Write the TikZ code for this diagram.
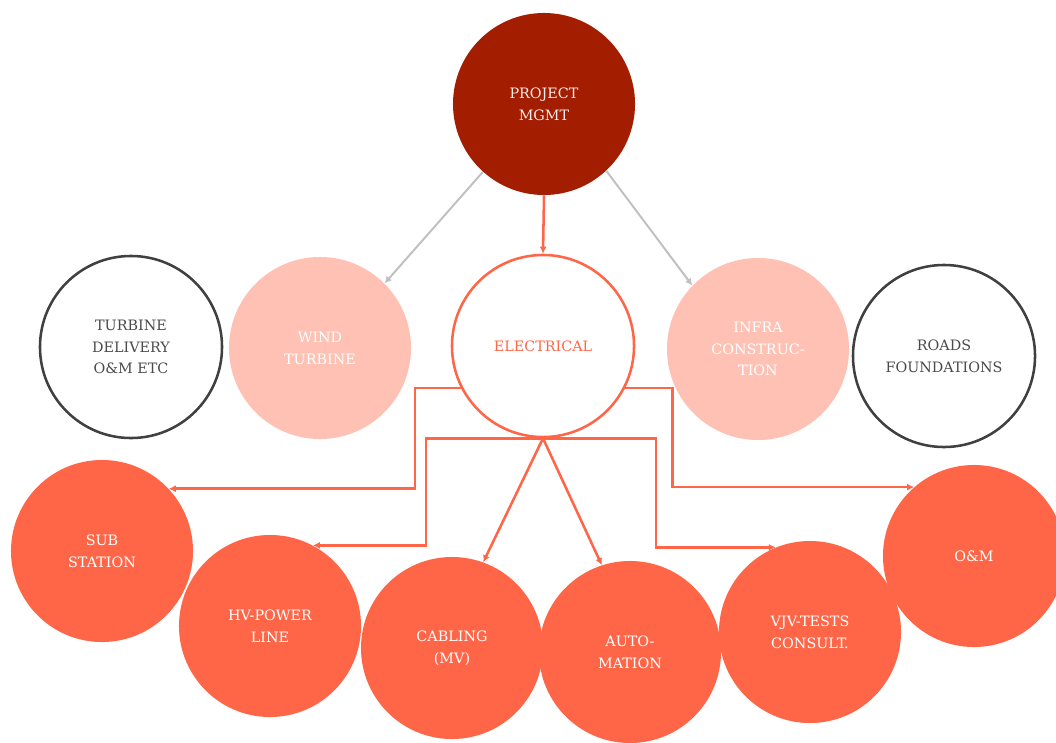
\documentclass[tikz,border=0pt]{standalone}
\usepackage{fontspec}
\setmainfont{DejaVu Serif}
\usetikzlibrary{arrows.meta}
\definecolor{pmred}{HTML}{A31D00}
\definecolor{tomatoo}{HTML}{FF6647}
\definecolor{pinkish}{HTML}{FFC1B4}
\definecolor{ringgray}{HTML}{404040}
\definecolor{txtgray}{HTML}{4A4A4A}
\definecolor{arrgray}{HTML}{C0C0C0}
\begin{document}
\begin{tikzpicture}[x=0.025cm, y=-0.025cm,
    bubble/.style = {circle, minimum size=4.55cm, inner sep=0pt, align=center,
        font=\fontsize{10.2}{15.5}\selectfont},
    boss/.style = {bubble, fill=pmred, text=white!92!pmred},
    side/.style = {bubble, fill=pinkish, text=white},
    outer/.style = {bubble, draw=ringgray, line width=1.8pt, text=txtgray},
    hub/.style = {bubble, draw=tomatoo, line width=1.8pt, fill=white, text=tomatoo},
    leaf/.style = {bubble, fill=tomatoo, text=white},
    glink/.style = {draw=arrgray, line width=1.4pt, -{Latex[length=5pt,width=5pt]}},
    elink/.style = {draw=tomatoo, line width=1.8pt, -{Latex[length=5pt,width=5pt]}}]
        \useasboundingbox (0,0) rectangle (1056,742);
        \node[boss] (pm) at (544,104) {PROJECT\\MGMT};
        \node[outer] (tdel) at (131,347) {TURBINE\\DELIVERY\\O\&M ETC};
        \node[side] (wind) at (320,348) {WIND\\TURBINE};
        \node[hub] (elec) at (543,346) {ELECTRICAL};
        \node[side] (infra) at (758,349) {INFRA\\CONSTRUC-\\TION};
        \node[outer] (roads) at (944,356) {ROADS\\FOUNDATIONS};
        \node[leaf] (sub) at (102,551) {SUB\\STATION};
        \node[leaf] (hv) at (270,626) {HV-POWER\\LINE};
        \node[leaf] (cab) at (452,648) {CABLING\\(MV)};
        \node[leaf] (auto) at (630,652) {AUTO-\\MATION};
        \node[leaf] (vjv) at (810,632) {VJV-TESTS\\CONSULT.};
        \node[leaf] (om) at (974,556) {O\&M};
        \draw[glink] (pm.228) -- (wind.45);
        \draw[glink] (pm.313) -- (infra.136);
        \draw[elink] (pm.south) -- (elec.north);
        \draw[elink] (elec.207) -- ++(-46,0) |- (sub.43);
        \draw[elink] (elec.south) -- ++(-117,0) |- (hv.62);
        \draw[elink] (elec.south) -- (cab.70);
        \draw[elink] (elec.south) -- (auto.108);
        \draw[elink] (elec.south) -- ++(113,0) |- (vjv.112);
        \draw[elink] (elec.333) -- ++(47,0) |- (om.131);
    \end{tikzpicture}
\end{document}
